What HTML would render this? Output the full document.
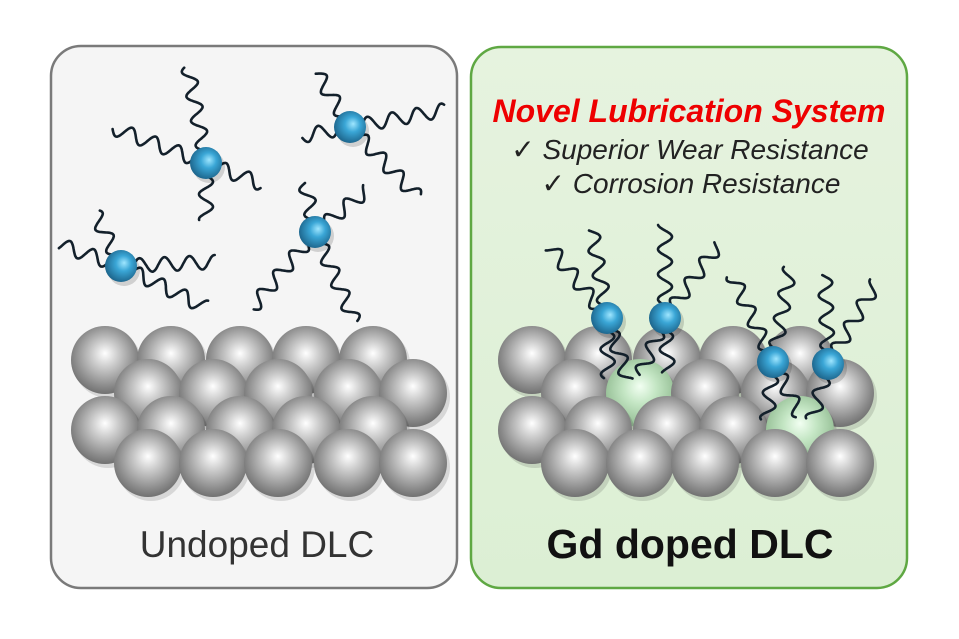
<!DOCTYPE html>
<html><head><meta charset="utf-8"><style>
html,body{margin:0;padding:0;background:#fff;}
svg{display:block;}
</style></head><body>
<svg id="s" width="959" height="639" viewBox="0 0 959 639" xmlns="http://www.w3.org/2000/svg">
<defs>
<radialGradient id="gs" cx="0.5" cy="0.45" r="0.6" fx="0.5" fy="0.4">
<stop offset="0" stop-color="#ffffff"/><stop offset="0.3" stop-color="#cfcfcf"/><stop offset="0.75" stop-color="#8a8a8a"/><stop offset="1" stop-color="#666"/></radialGradient>
<radialGradient id="gg" cx="0.5" cy="0.45" r="0.6" fx="0.5" fy="0.4">
<stop offset="0" stop-color="#f2fff2"/><stop offset="0.4" stop-color="#c4e6c4"/><stop offset="1" stop-color="#8ab58a"/></radialGradient>
<radialGradient id="gb" cx="0.55" cy="0.45" r="0.6" fx="0.6" fy="0.4">
<stop offset="0" stop-color="#9fe6ff"/><stop offset="0.4" stop-color="#3aa6d6"/><stop offset="1" stop-color="#1a5f85"/></radialGradient>
<linearGradient id="gp" x1="0" y1="0" x2="0" y2="1"><stop offset="0" stop-color="#e6f3df"/><stop offset="1" stop-color="#dcefd4"/></linearGradient>
</defs>
<rect x="51" y="46" width="406" height="542" rx="30" fill="#f5f5f5" stroke="#7a7a7a" stroke-width="2.5"/>
<rect x="471" y="47" width="436" height="541" rx="30" fill="url(#gp)" stroke="#5fa843" stroke-width="2.5"/>
<g id="g"></g>
<text x="689" y="122" text-anchor="middle" font-family="Liberation Sans, sans-serif" font-size="32" font-weight="bold" font-style="italic" fill="#ee0000">Novel Lubrication System</text>
<text x="690" y="159" text-anchor="middle" font-family="Liberation Sans, DejaVu Sans, sans-serif" font-size="28" font-style="italic" fill="#222">✓ Superior Wear Resistance</text>
<text x="691" y="193" text-anchor="middle" font-family="Liberation Sans, DejaVu Sans, sans-serif" font-size="28" font-style="italic" fill="#222">✓ Corrosion Resistance</text>
<text x="257" y="557" text-anchor="middle" font-family="Liberation Sans, sans-serif" font-size="37" fill="#333">Undoped DLC</text>
<text x="690" y="558" text-anchor="middle" font-family="Liberation Sans, sans-serif" font-size="41" font-weight="bold" fill="#111">Gd doped DLC</text>
</svg>
<script>
var g=document.getElementById('g'),h='';
function sph(x,y,r,f){h+='<circle cx="'+(x+3)+'" cy="'+(y+4)+'" r="'+r+'" fill="#000" opacity="0.12"/><circle cx="'+x+'" cy="'+y+'" r="'+r+'" fill="url(#'+f+')"/>';}
function wave(x1,y1,x2,y2){var dx=x2-x1,dy=y2-y1,L=Math.hypot(dx,dy),ux=dx/L,uy=dy/L,nx=-uy,ny=ux,d='M'+x1+','+y1,n=Math.round(L*1.5);
for(var i=1;i<=n;i++){var t=i/n*L,a=Math.sin(t/25*2*Math.PI)*7*Math.min(1,t/8);d+=' L'+(x1+ux*t+nx*a).toFixed(1)+','+(y1+uy*t+ny*a).toFixed(1);}
h+='<path d="'+d+'" fill="none" stroke="#13202b" stroke-width="2.6" stroke-linecap="round" stroke-linejoin="round"/>';}
function mol(x,y,ts){ts.forEach(function(t){wave(x,y,t[0],t[1]);});h+='<circle cx="'+(x+3)+'" cy="'+(y+4)+'" r="16" fill="#000" opacity="0.15"/><circle cx="'+x+'" cy="'+y+'" r="16" fill="url(#gb)"/>';}
var R=34,rows=[[360,[532,598,667,733,800]],[393,[575,640,705,775,840]],[430,[532,598,667,733,800]],[463,[575,640,705,775,840]]];
rows.forEach(function(r){r[1].forEach(function(x){sph(x-427,r[0],R,'gs');});});
mol(206,163,[[188,67],[113,128],[262,184],[206,220]]);
mol(350,127,[[317,73],[445,110],[302,136],[418,197]]);
mol(121,266,[[95,213],[60,245],[215,262],[205,307]]);
mol(315,232,[[305,183],[367,190],[252,308],[355,322]]);
rows.forEach(function(r,ri){r[1].forEach(function(x){var gr=(ri==1&&x==640)||(ri==2&&x==800);sph(x,r[0],R,gr?'gg':'gs');});});
mol(607,318,[[550,247],[592,230],[608,378],[628,380]]);
mol(665,318,[[665,225],[718,245],[640,375],[668,372]]);
mol(773,362,[[732,275],[790,268],[767,420],[800,415]]);
mol(828,364,[[825,275],[876,283],[812,420]]);
g.innerHTML=h;
</script>
</body></html>
